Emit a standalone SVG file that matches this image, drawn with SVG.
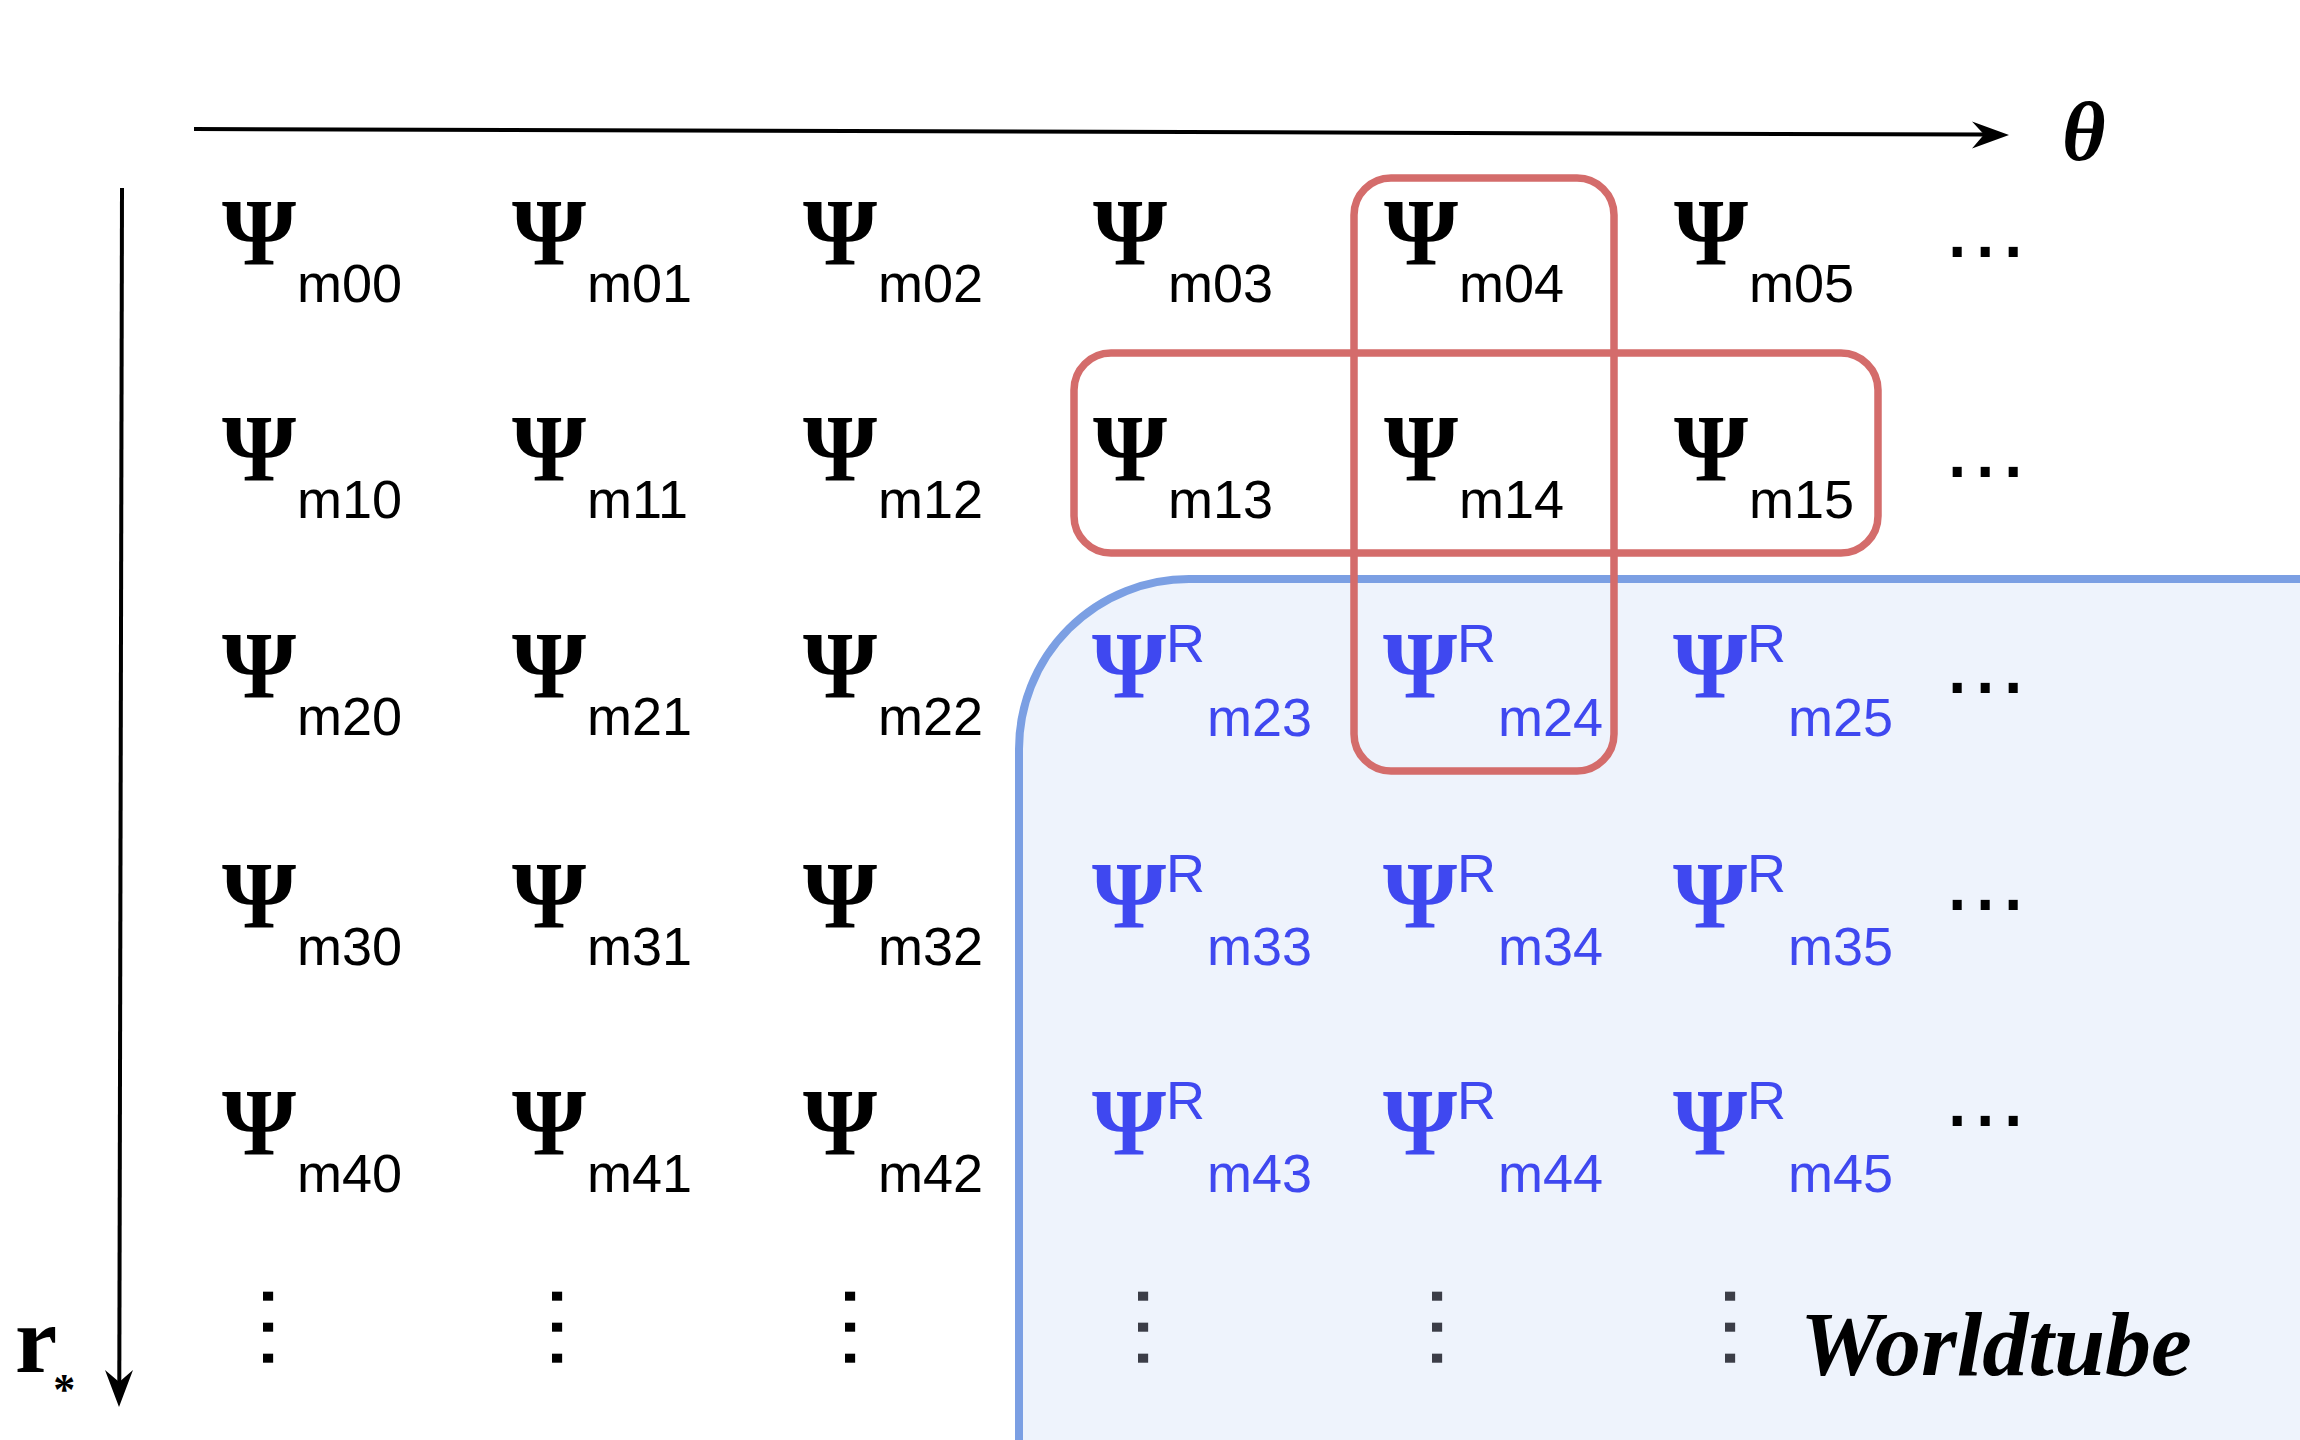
<svg xmlns="http://www.w3.org/2000/svg" width="2300" height="1440" viewBox="0 0 2300 1440">
<style>
.psi{font-family:"Liberation Serif","Times New Roman",serif;font-weight:bold;font-size:95px;fill:#000}
.sub{font-family:"Liberation Sans",Arial,sans-serif;font-size:54px;fill:#000}
.b .psi,.b .sub{fill:#3F48F0}
.dots{font-family:"Liberation Sans",Arial,sans-serif;font-size:95px;fill:#000;letter-spacing:1.6px}
.vdots{font-family:"Liberation Sans",Arial,sans-serif;font-size:95px;fill:#000;letter-spacing:4.6px}
.vdots.in{fill:#3B3D47}
.lbl{font-family:"Liberation Serif","Times New Roman",serif;font-weight:bold;fill:#000}
.red{fill:none;stroke:#D46C6B;stroke-width:7.5}
</style>
<rect width="2300" height="1440" fill="#fff"/>
<g id="worldtube-region">
<rect x="1019" y="579" width="1500" height="1100" rx="170" ry="170" fill="#EEF3FC" stroke="#7B9FE3" stroke-width="8"/>
</g>
<g id="connectors">
<line x1="194" y1="129" x2="1986" y2="134.6" stroke="#000" stroke-width="4"/>
<path d="M2009,135 L1972,121.5 L1984,134.6 L1972,148.5 Z" fill="#000"/>
<line x1="122" y1="188" x2="119.3" y2="1384" stroke="#000" stroke-width="4"/>
<path d="M119,1407 L105,1370 L119.2,1382 L133,1370 Z" fill="#000"/>
</g>
<g id="axis-labels">
<text class="lbl" x="2062" y="160" font-size="84" font-style="italic">θ</text>
<g id="label-rstar"><text class="lbl" x="15" y="1372" font-size="95">r<tspan dx="-4" dy="32" font-size="44">*</tspan></text></g>
</g>
<!-- row 0 -->
<g id="n-m00"><text class="psi" x="222" y="265">Ψ</text><text class="sub" x="297" y="302">m00</text></g>
<g id="n-m01"><text class="psi" x="512" y="265">Ψ</text><text class="sub" x="587" y="302">m01</text></g>
<g id="n-m02"><text class="psi" x="803" y="265">Ψ</text><text class="sub" x="878" y="302">m02</text></g>
<g id="n-m03"><text class="psi" x="1093" y="265">Ψ</text><text class="sub" x="1168" y="302">m03</text></g>
<g id="n-m04"><text class="psi" x="1384" y="265">Ψ</text><text class="sub" x="1459" y="302">m04</text></g>
<g id="n-m05"><text class="psi" x="1674" y="265">Ψ</text><text class="sub" x="1749" y="302">m05</text></g>
<g id="n-dots0"><text class="dots" x="1944" y="257">...</text></g>
<!-- row 1 -->
<g id="n-m10"><text class="psi" x="222" y="481">Ψ</text><text class="sub" x="297" y="518">m10</text></g>
<g id="n-m11"><text class="psi" x="512" y="481">Ψ</text><text class="sub" x="587" y="518">m11</text></g>
<g id="n-m12"><text class="psi" x="803" y="481">Ψ</text><text class="sub" x="878" y="518">m12</text></g>
<g id="n-m13"><text class="psi" x="1093" y="481">Ψ</text><text class="sub" x="1168" y="518">m13</text></g>
<g id="n-m14"><text class="psi" x="1384" y="481">Ψ</text><text class="sub" x="1459" y="518">m14</text></g>
<g id="n-m15"><text class="psi" x="1674" y="481">Ψ</text><text class="sub" x="1749" y="518">m15</text></g>
<g id="n-dots1"><text class="dots" x="1944" y="477">...</text></g>
<!-- row 2 -->
<g id="n-m20"><text class="psi" x="222" y="698">Ψ</text><text class="sub" x="297" y="735">m20</text></g>
<g id="n-m21"><text class="psi" x="512" y="698">Ψ</text><text class="sub" x="587" y="735">m21</text></g>
<g id="n-m22"><text class="psi" x="803" y="698">Ψ</text><text class="sub" x="878" y="735">m22</text></g>
<g id="n-m23" class="b"><text class="psi" x="1092" y="698">Ψ</text><text class="sub" x="1166" y="662">R</text><text class="sub" x="1207" y="736">m23</text></g>
<g id="n-m24" class="b"><text class="psi" x="1383" y="698">Ψ</text><text class="sub" x="1457" y="662">R</text><text class="sub" x="1498" y="736">m24</text></g>
<g id="n-m25" class="b"><text class="psi" x="1673" y="698">Ψ</text><text class="sub" x="1747" y="662">R</text><text class="sub" x="1788" y="736">m25</text></g>
<g id="n-dots2"><text class="dots" x="1944" y="693">...</text></g>
<!-- row 3 -->
<g id="n-m30"><text class="psi" x="222" y="928">Ψ</text><text class="sub" x="297" y="965">m30</text></g>
<g id="n-m31"><text class="psi" x="512" y="928">Ψ</text><text class="sub" x="587" y="965">m31</text></g>
<g id="n-m32"><text class="psi" x="803" y="928">Ψ</text><text class="sub" x="878" y="965">m32</text></g>
<g id="n-m33" class="b"><text class="psi" x="1092" y="928">Ψ</text><text class="sub" x="1166" y="892">R</text><text class="sub" x="1207" y="965">m33</text></g>
<g id="n-m34" class="b"><text class="psi" x="1383" y="928">Ψ</text><text class="sub" x="1457" y="892">R</text><text class="sub" x="1498" y="965">m34</text></g>
<g id="n-m35" class="b"><text class="psi" x="1673" y="928">Ψ</text><text class="sub" x="1747" y="892">R</text><text class="sub" x="1788" y="965">m35</text></g>
<g id="n-dots3"><text class="dots" x="1944" y="910">...</text></g>
<!-- row 4 -->
<g id="n-m40"><text class="psi" x="222" y="1155">Ψ</text><text class="sub" x="297" y="1192">m40</text></g>
<g id="n-m41"><text class="psi" x="512" y="1155">Ψ</text><text class="sub" x="587" y="1192">m41</text></g>
<g id="n-m42"><text class="psi" x="803" y="1155">Ψ</text><text class="sub" x="878" y="1192">m42</text></g>
<g id="n-m43" class="b"><text class="psi" x="1092" y="1155">Ψ</text><text class="sub" x="1166" y="1119">R</text><text class="sub" x="1207" y="1192">m43</text></g>
<g id="n-m44" class="b"><text class="psi" x="1383" y="1155">Ψ</text><text class="sub" x="1457" y="1119">R</text><text class="sub" x="1498" y="1192">m44</text></g>
<g id="n-m45" class="b"><text class="psi" x="1673" y="1155">Ψ</text><text class="sub" x="1747" y="1119">R</text><text class="sub" x="1788" y="1192">m45</text></g>
<g id="n-dots4"><text class="dots" x="1944" y="1126">...</text></g>
<!-- vertical dots -->
<g id="n-vdots">
<text class="vdots" x="263" y="1283" transform="rotate(90 263 1283)">...</text>
<text class="vdots" x="552" y="1283" transform="rotate(90 552 1283)">...</text>
<text class="vdots" x="845" y="1283" transform="rotate(90 845 1283)">...</text>
<text class="vdots in" x="1138" y="1283" transform="rotate(90 1138 1283)">...</text>
<text class="vdots in" x="1432" y="1283" transform="rotate(90 1432 1283)">...</text>
<text class="vdots in" x="1725" y="1283" transform="rotate(90 1725 1283)">...</text>
</g>
<g id="label-worldtube"><text class="lbl" x="1800" y="1375" font-size="92" font-style="italic">Worldtube</text></g>
<g id="stencil-boxes">
<rect id="stencil-vertical" class="red" x="1354" y="178" width="260" height="593" rx="37" ry="37"/>
<rect id="stencil-horizontal" class="red" x="1074" y="353" width="804" height="200" rx="37" ry="37"/>
</g>
</svg>
